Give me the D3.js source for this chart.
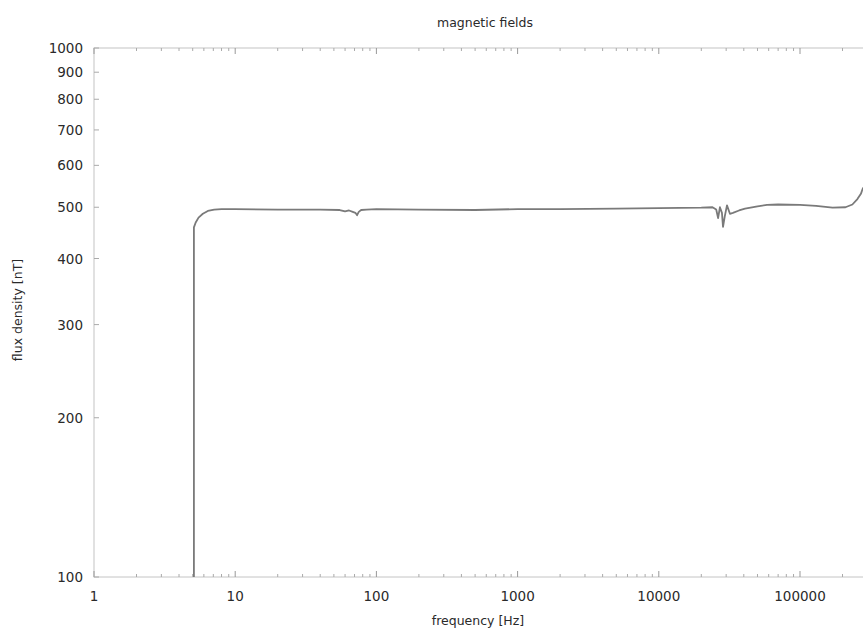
<!DOCTYPE html>
<html lang="en">
<head>
<meta charset="UTF-8">
<title>magnetic fields</title>
<script src="https://d3js.org/d3.v7.min.js"></script>
<style>
  body { margin: 0; background: #fff; }
  svg text { font-family: "DejaVu Sans", sans-serif; fill: #2a2a2a; }
</style>
</head>
<body>
<script>
var freq = [5.1, 5.1, 5.25, 5.5, 5.9, 6.4, 7.1, 8, 10, 20, 40, 55, 60, 64, 68, 71, 73, 75, 78, 85,
            100, 200, 500, 1000, 2000, 5000, 10000, 20000, 24000, 25500, 26300, 27100, 28000, 28500,
            29300, 30400, 31900, 33500, 37000, 40800, 50000, 58400, 70000, 100000, 130000, 170000,
            210000, 235000, 255000, 270000, 280000];
var flux = [100, 458, 468, 478, 486, 492, 495, 496, 496, 495, 495, 494, 491, 493, 490, 488, 483, 490, 494, 495,
            496, 495, 494, 496, 496, 497, 498, 499, 500, 495, 477, 500, 488, 459,
            480, 504, 486, 488, 493, 497, 502, 505, 506, 505, 503, 499,
            500, 506, 518, 530, 545];

var xTicks = [1, 10, 100, 1000, 10000, 100000];
var yTicks = [100, 200, 300, 400, 500, 600, 700, 800, 900, 1000];

var W = 863, H = 632;
var plotL = 94, plotT = 48, plotB = 577;
var decade = 141.2;

var svg = d3.select("body").append("svg")
    .attr("width", W)
    .attr("height", H);

var x = d3.scaleLog().domain([1, 1e6]).range([plotL, plotL + 6 * decade]);
var y = d3.scaleLog().domain([100, 1000]).range([plotB, plotT]);
var plotR = x.range()[1];

// frame
svg.append("rect")
    .attr("x", plotL).attr("y", plotT)
    .attr("width", plotR - plotL).attr("height", plotB - plotT)
    .attr("fill", "none").attr("stroke", "#c4c4c4").attr("stroke-width", 1);

// minor x ticks (2..9 of each decade), inward on bottom and top
var minorX = [];
for (var d = 1; d < 1e6; d *= 10) for (var k = 2; k < 10; k++) minorX.push(d * k);

var gx = svg.append("g").attr("class", "xticks");
gx.selectAll(".mb").data(minorX).enter().append("line")
    .attr("x1", function(v) { return x(v); }).attr("x2", function(v) { return x(v); })
    .attr("y1", plotB).attr("y2", plotB - 3)
    .attr("stroke", "#aaa");
gx.selectAll(".mt").data(minorX).enter().append("line")
    .attr("x1", function(v) { return x(v); }).attr("x2", function(v) { return x(v); })
    .attr("y1", plotT).attr("y2", plotT + 3)
    .attr("stroke", "#aaa");
gx.selectAll(".Mb").data(xTicks).enter().append("line")
    .attr("x1", function(v) { return x(v); }).attr("x2", function(v) { return x(v); })
    .attr("y1", plotB).attr("y2", plotB - 6)
    .attr("stroke", "#999");
gx.selectAll(".Mt").data(xTicks).enter().append("line")
    .attr("x1", function(v) { return x(v); }).attr("x2", function(v) { return x(v); })
    .attr("y1", plotT).attr("y2", plotT + 6)
    .attr("stroke", "#999");
gx.selectAll("text").data(xTicks).enter().append("text")
    .attr("x", function(v) { return x(v); })
    .attr("y", plotB + 24)
    .attr("text-anchor", "middle")
    .attr("font-size", 13.5)
    .text(function(v) { return v; });

// y ticks
var gy = svg.append("g").attr("class", "yticks");
gy.selectAll("line").data(yTicks).enter().append("line")
    .attr("x1", plotL).attr("x2", plotL + 5)
    .attr("y1", function(v) { return y(v); }).attr("y2", function(v) { return y(v); })
    .attr("stroke", "#aaa");
gy.selectAll("text").data(yTicks).enter().append("text")
    .attr("x", 83)
    .attr("y", function(v) { return y(v) + 5; })
    .attr("text-anchor", "end")
    .attr("font-size", 13.5)
    .text(function(v) { return v; });

// data line
var line = d3.line()
    .x(function(d) { return x(d[0]); })
    .y(function(d) { return y(d[1]); });

svg.append("path")
    .datum(d3.zip(freq, flux))
    .attr("d", line)
    .attr("fill", "none")
    .attr("stroke", "#7a7a7a")
    .attr("stroke-width", 1.8)
    .attr("stroke-linejoin", "round");

// titles
svg.append("text")
    .attr("x", 485).attr("y", 27)
    .attr("text-anchor", "middle")
    .attr("font-size", 12.5)
    .text("magnetic fields");

svg.append("text")
    .attr("x", 478).attr("y", 625)
    .attr("text-anchor", "middle")
    .attr("font-size", 12.5)
    .text("frequency [Hz]");

svg.append("text")
    .attr("transform", "translate(22,310) rotate(-90)")
    .attr("text-anchor", "middle")
    .attr("font-size", 12.5)
    .text("flux density [nT]");
</script>
</body>
</html>
